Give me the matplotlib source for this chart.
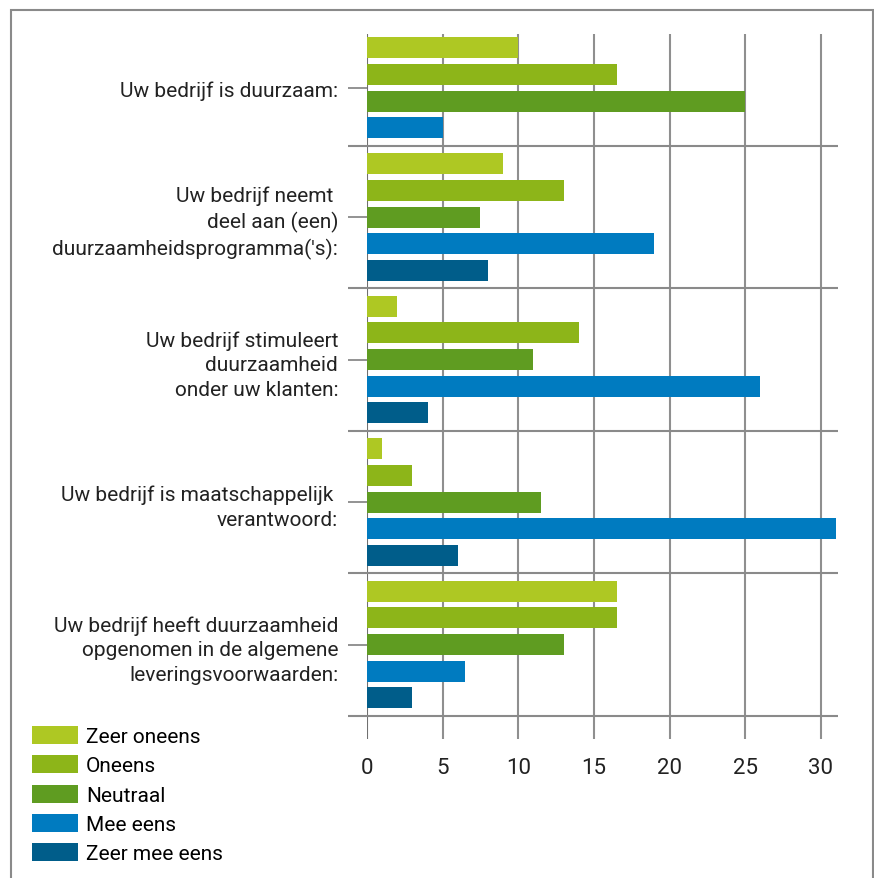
import matplotlib.pyplot as plt
from matplotlib.patches import Rectangle, Patch

# survey answers per statement (None = not answered / no bar)
statements = [
    "Uw bedrijf is duurzaam:",
    "Uw bedrijf neemt \ndeel aan (een)\nduurzaamheidsprogramma('s):",
    "Uw bedrijf stimuleert\nduurzaamheid\nonder uw klanten:",
    "Uw bedrijf is maatschappelijk \nverantwoord:",
    "Uw bedrijf heeft duurzaamheid\nopgenomen in de algemene\nleveringsvoorwaarden:",
]
answers = ["Zeer oneens", "Oneens", "Neutraal", "Mee eens", "Zeer mee eens"]
zeer_oneens = [10, 9, 2, 1, 16.5]
oneens = [16.5, 13, 14, 3, 16.5]
neutraal = [25, 7.5, 11, 11.5, 13]
mee_eens = [5, 19, 26, 31, 6.5]
zeer_mee_eens = [None, 8, 4, 6, 3]
colors = ["#AEC823", "#8DB519", "#5F9C21", "#007BC0", "#005D8A"]
xticks = [0, 5, 10, 15, 20, 25, 30]

series = [zeer_oneens, oneens, neutraal, mee_eens, zeer_mee_eens]

label_font = "Roboto"

fig = plt.figure(figsize=(8.74, 8.79), dpi=100)
W, H = 874, 879
ax = fig.add_axes([367 / W, 1 - 740 / H, (838 - 367) / W, (740 - 35) / H])

gap = 0.67
bar_h = 0.79
boundary = -gap
separators = []
centers = []
for g in range(len(statements)):
    y = boundary + gap
    first = y
    for s, vals in enumerate(series):
        v = vals[g]
        if v is None:
            continue
        ax.barh(y, v, height=bar_h, color=colors[s], zorder=3)
        y += 1
    last = y - 1
    centers.append((first + last) / 2)
    boundary = last + gap
    separators.append(boundary)

xmax = 31.13
ax.set_xlim(0, xmax)
ax.set_ylim(separators[-1] + 0.87, -0.52)

# vertical grid, zero line a bit darker
for t in xticks:
    ax.axvline(t, color="#707070" if t == 0 else "#8f8f8f", lw=1.5, zorder=2)

# group separators reach out past the value axis
ax.hlines(separators, -1.26, xmax, color="#8a8a8a", lw=1.5, clip_on=False, zorder=2)

for sp in ax.spines.values():
    sp.set_visible(False)

ax.set_xticks(xticks)
ax.set_xticklabels([str(t) for t in xticks], family=label_font, fontsize=16, color="#222222")
ax.tick_params(axis="x", length=0, pad=13)

ax.set_yticks(centers)
ax.set_yticklabels(statements, family=label_font, fontsize=15, color="#222222",
                   linespacing=1.37)
ax.tick_params(axis="y", length=13.7, width=1.3, color="#8a8a8a", pad=7)

handles = [Patch(facecolor=c, edgecolor="none") for c in colors]
fig.legend(handles, answers, loc="upper left", bbox_to_anchor=(32 / W, 1 - 727 / H),
           frameon=False, prop={"family": label_font, "size": 15},
           handlelength=2.2, handleheight=0.95, labelspacing=0.44, handletextpad=0.4,
           borderpad=0, borderaxespad=0)

# outer frame, open at the bottom of the page
fig.add_artist(Rectangle((11 / W, -0.05), (872.5 - 11) / W, 1.05 - 11 / H,
                         transform=fig.transFigure, fill=False,
                         edgecolor="#8a8a8a", lw=1.5))

fig.savefig("out.png", dpi=100, facecolor="white")
